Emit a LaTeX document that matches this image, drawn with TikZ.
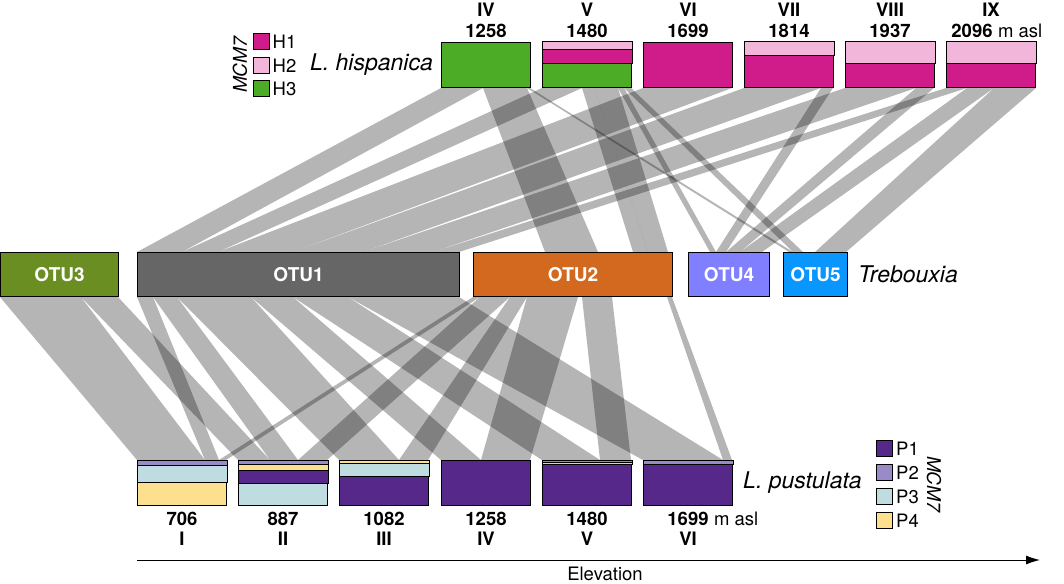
\documentclass[tikz,border=0pt]{standalone}
\usepackage{fontspec}
\setmainfont{TeX Gyre Heros}
\usetikzlibrary{positioning,calc,arrows.meta}

\definecolor{hone}{HTML}{D01C8B}
\definecolor{htwo}{HTML}{F1B6DA}
\definecolor{hthree}{HTML}{4DAC26}
\definecolor{pone}{HTML}{55288A}
\definecolor{ptwo}{HTML}{9A8BC8}
\definecolor{pthree}{HTML}{BFDCE0}
\definecolor{pfour}{HTML}{FDE08F}
\definecolor{otuone}{HTML}{666666}
\definecolor{otutwo}{HTML}{D2691E}
\definecolor{otuthree}{HTML}{6B8E23}
\definecolor{otufour}{HTML}{7F7FFF}
\definecolor{otufive}{HTML}{0A96FF}

\pgfdeclarelayer{ribbons}
\pgfsetlayers{ribbons,main}

% band of a population box, measured down from its top edge
\newcommand{\band}[4]{\filldraw[fill=#4,line width=1pt] ([yshift=-#2pt]#1.north west) rectangle ([yshift=-#3pt]#1.north east);}
% link between the lower edge of one box and the upper edge of another
\newcommand{\ribbon}[6]{\fill[ribbon] ([xshift=#2pt]#1.south west) -- ([xshift=#3pt]#1.south west) -- ([xshift=#6pt]#4.north west) -- ([xshift=#5pt]#4.north west) -- cycle;}

\tikzset{
  pop/.style={draw,line width=1pt,minimum width=89pt,minimum height=45pt,inner sep=0pt,anchor=north west},
  otu/.style={draw,line width=1pt,minimum height=44pt,inner sep=0pt,anchor=north west,text=white,font=\bfseries\fontsize{19}{22}\selectfont},
  num/.style={inner sep=0pt,font=\bfseries\fontsize{18.5}{22}\selectfont},
  species/.style={inner sep=0pt,font=\itshape\fontsize{23}{26}\selectfont},
  key/.style={draw,line width=1pt,minimum size=16pt,inner sep=0pt},
  keytext/.style={inner sep=0pt,font=\fontsize{18.5}{20}\selectfont},
  ribbon/.style={fill=black,fill opacity=0.29}
}

\begin{document}
\begin{tikzpicture}[x=1pt,y=-1pt]
    \useasboundingbox (0,0) rectangle (1064,583);

    % L. hispanica
    \node[pop,fill=hthree] (hisIV) at (441,42) {};
    \node[pop,fill=hthree] (hisV) at (542,42) {};
    \node[pop,fill=hone] (hisVI) at (643,42) {};
    \node[pop,fill=hone] (hisVII) at (744,42) {};
    \node[pop,fill=hone] (hisVIII) at (845,42) {};
    \node[pop,fill=hone] (hisIX) at (946,42) {};
    \band{hisV}{0}{22}{hone}
    \band{hisV}{0}{8}{htwo}
    \band{hisVII}{0}{14}{htwo}
    \band{hisVIII}{0}{22}{htwo}
    \band{hisIX}{0}{22}{htwo}

    \node[num,above=3.7pt of hisIV] (hisIV-m) {1258};
    \node[num,above=3.7pt of hisV] (hisV-m) {1480};
    \node[num,above=3.7pt of hisVI] (hisVI-m) {1699};
    \node[num,above=3.7pt of hisVII] (hisVII-m) {1814};
    \node[num,above=3.7pt of hisVIII] (hisVIII-m) {1937};
    \node[num,above=3.7pt of hisIX,xshift=-19pt] (hisIX-m) {2096};
    \node[num,above=25.3pt of hisIV] {IV};
    \node[num,above=25.3pt of hisV] {V};
    \node[num,above=25.3pt of hisVI] {VI};
    \node[num,above=25.3pt of hisVII] {VII};
    \node[num,above=25.3pt of hisVIII] {VIII};
    \node[num,above=25.3pt of hisIX] {IX};
    \node[num,anchor=base west,font=\fontsize{18.5}{22}\selectfont] at (hisIX-m.base east) {\ m asl};

    \node[species,left=8pt of hisIV] (hisname) {L. hispanica};
    \node[key,fill=hone] (keyH1) at (261,42) {};
    \node[key,fill=htwo,below=6.5pt of keyH1] (keyH2) {};
    \node[key,fill=hthree,below=6.5pt of keyH2] (keyH3) {};
    \node[keytext,right=3pt of keyH1] {H1};
    \node[keytext,right=3pt of keyH2] {H2};
    \node[keytext,right=3pt of keyH3] {H3};
    \node[keytext,rotate=90,font=\itshape\fontsize{19}{20}\selectfont] at (240,65) {MCM7};

    % Trebouxia OTUs
    \node[otu,fill=otuthree,minimum width=118pt] (otu3) at (0,252) {OTU3};
    \node[otu,fill=otuone,minimum width=322pt] (otu1) at (137,252) {OTU1};
    \node[otu,fill=otutwo,minimum width=199pt] (otu2) at (473,252) {OTU2};
    \node[otu,fill=otufour,minimum width=81pt] (otu4) at (688,252) {OTU4};
    \node[otu,fill=otufive,minimum width=64pt] (otu5) at (783,252) {OTU5};
    \node[species,right=10pt of otu5] (trebname) {Trebouxia};

    % L. pustulata
    \node[pop,fill=pfour] (pusI) at (137,460) {};
    \node[pop,fill=pthree] (pusII) at (238,460) {};
    \node[pop,fill=pone] (pusIII) at (339,460) {};
    \node[pop,fill=pone] (pusIV) at (441,460) {};
    \node[pop,fill=pone] (pusV) at (542,460) {};
    \node[pop,fill=pone] (pusVI) at (643,460) {};
    \band{pusI}{0}{22}{pthree}
    \band{pusI}{0}{5}{ptwo}
    \band{pusII}{0}{23}{pone}
    \band{pusII}{0}{10}{pfour}
    \band{pusII}{0}{4.5}{ptwo}
    \band{pusIII}{0}{16}{pthree}
    \band{pusIII}{0}{3.5}{pfour}
    \band{pusV}{0}{4}{pthree}
    \band{pusV}{0}{2}{ptwo}
    \band{pusVI}{0}{4}{ptwo}

    \node[num,below=5.5pt of pusI] (pusI-m) {706};
    \node[num,below=5.5pt of pusII] (pusII-m) {887};
    \node[num,below=5.5pt of pusIII] (pusIII-m) {1082};
    \node[num,below=5.5pt of pusIV] (pusIV-m) {1258};
    \node[num,below=5.5pt of pusV] (pusV-m) {1480};
    \node[num,below=5.5pt of pusVI] (pusVI-m) {1699};
    \node[num,below=26pt of pusI] {I};
    \node[num,below=26pt of pusII] {II};
    \node[num,below=26pt of pusIII] {III};
    \node[num,below=26pt of pusIV] {IV};
    \node[num,below=26pt of pusV] {V};
    \node[num,below=26pt of pusVI] {VI};
    \node[num,anchor=base west,font=\fontsize{18.5}{22}\selectfont] at (pusVI-m.base east) {\ m asl};

    \node[species,right=10pt of pusVI] (pusname) {L. pustulata};
    \node[key,fill=pone] (keyP1) at (884.5,448.5) {};
    \node[key,fill=ptwo,below=7pt of keyP1] (keyP2) {};
    \node[key,fill=pthree,below=7pt of keyP2] (keyP3) {};
    \node[key,fill=pfour,below=7pt of keyP3] (keyP4) {};
    \node[keytext,right=3pt of keyP1] {P1};
    \node[keytext,right=3pt of keyP2] {P2};
    \node[keytext,right=3pt of keyP3] {P3};
    \node[keytext,right=3pt of keyP4] {P4};
    \node[keytext,rotate=-90,font=\itshape\fontsize{19}{20}\selectfont] at (934,484) {MCM7};

    % elevation axis
    \coordinate (elev0) at (137,560);
    \coordinate (elev1) at (1040,560);
    \draw[line width=1pt,-{Latex[length=14pt,width=9pt]}] (elev0) -- (elev1);
    \node[keytext] (elevname) at (605,574) {Elevation};

    \begin{pgfonlayer}{ribbons}
    % L. hispanica to OTUs
    \ribbon{hisIV}{0}{42}{otu1}{0}{45}
    \ribbon{hisIV}{42}{86}{otu2}{72}{125}
    \ribbon{hisIV}{86}{89}{otu5}{6}{10}
    \ribbon{hisV}{0}{40}{otu1}{45}{81}
    \ribbon{hisV}{40}{52}{otu2}{160}{175}
    \ribbon{hisV}{52}{76}{otu2}{175}{195}
    \ribbon{hisV}{76}{82}{otu4}{22}{28}
    \ribbon{hisV}{82}{89}{otu5}{10}{20}
    \ribbon{hisVI}{0}{89}{otu1}{81}{156}
    \ribbon{hisVII}{0}{77}{otu1}{156}{226}
    \ribbon{hisVII}{77}{89}{otu4}{28}{38}
    \ribbon{hisVIII}{0}{71}{otu1}{226}{296}
    \ribbon{hisVIII}{71}{89}{otu4}{38}{52}
    \ribbon{hisIX}{0}{21}{otu1}{296}{322}
    \ribbon{hisIX}{21}{48}{otu4}{52}{74}
    \ribbon{hisIX}{48}{90}{otu5}{32}{63}
    % OTUs to L. pustulata
    \ribbon{otu3}{0}{81}{pusI}{0}{68}
    \ribbon{otu1}{0}{16}{pusI}{68}{82}
    \ribbon{otu2}{0}{7}{pusI}{82}{89}
    \ribbon{otu3}{81}{118}{pusII}{0}{32}
    \ribbon{otu1}{16}{40}{pusII}{32}{60}
    \ribbon{otu2}{7}{37}{pusII}{60}{89}
    \ribbon{otu1}{40}{114}{pusIII}{0}{60}
    \ribbon{otu2}{37}{54}{pusIII}{60}{89}
    \ribbon{otu1}{114}{156}{pusIV}{0}{40}
    \ribbon{otu2}{54}{105}{pusIV}{40}{89}
    \ribbon{otu1}{156}{211}{pusV}{0}{58}
    \ribbon{otu2}{109}{139}{pusV}{58}{89}
    \ribbon{otu1}{211}{322}{pusVI}{0}{80}
    \ribbon{otu2}{194}{199}{pusVI}{80}{89}
    \end{pgfonlayer}
\end{tikzpicture}
\end{document}
